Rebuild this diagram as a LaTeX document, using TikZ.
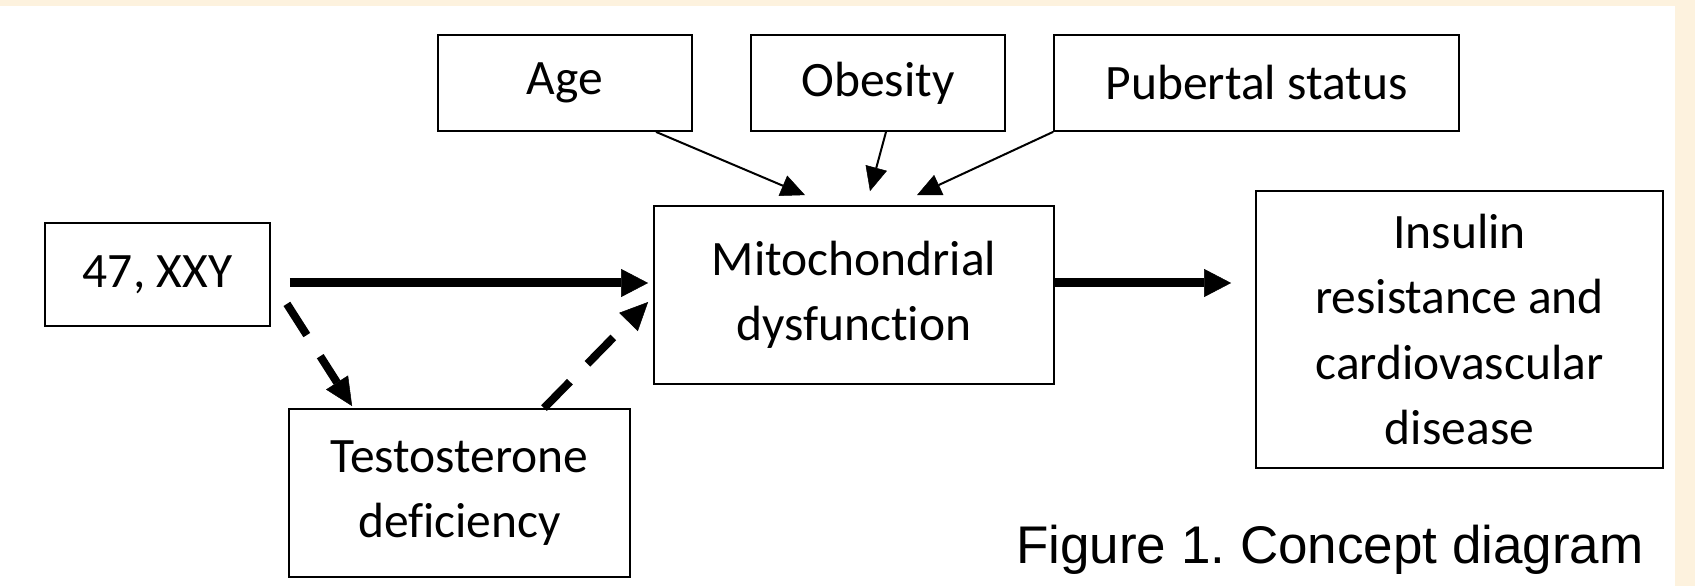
\documentclass[tikz,border=0pt]{standalone}
\usepackage{fontspec}
\setmainfont{Carlito}[Ligatures=NoCommon]
\newfontfamily\figfont{Liberation Sans}
\usetikzlibrary{arrows.meta}
\usetikzlibrary{calc}
\definecolor{cream}{RGB}{253,242,222}
\tikzset{box/.style={draw, line width=1.8pt, align=center, inner sep=0pt,
  font=\fontsize{49.5}{65}\selectfont},
 thin arrow/.style={line width=2pt, -{Triangle[length=24pt,width=22pt,line width=0.5pt]}},
 thick arrow/.style={line width=9pt, -{Triangle[length=27pt,width=28pt,line width=0.5pt]}},
 dash arrow/.style={line width=8pt, dash pattern=on 37pt off 25pt,
  -{Triangle[length=28pt,width=26pt,line width=0.5pt]}},
 }

\begin{document}
\begin{tikzpicture}[x=1pt,y=1pt]
        \useasboundingbox (0,0) rectangle (1695,586);
        \fill[cream] (0,0) rectangle (1695,586);
        \fill[white] (0,0) rectangle (1675,580);
        \node[box, minimum width=254, minimum height=96] (age) at (565,503) {Age};
        \node[box, minimum width=254, minimum height=96] (obesity) at (878,503) {Obesity};
        \node[box, minimum width=405, minimum height=96] (pubertal) at (1256.5,503) {Pubertal status};
        \node[box, minimum width=225, minimum height=103] (xxy) at (157.5,311.5) {47, XXY};
        \node[box, minimum width=400, minimum height=178] (mito) at (854,291) {Mitochondrial\\dysfunction};
        \node[box, minimum width=407, minimum height=277] (insulin) at (1459.5,256.5) {Insulin\\resistance and\\cardiovascular\\disease};
        \node[box, minimum width=341, minimum height=168] (testo) at (459.5,93) {Testosterone\\deficiency};
        \node[anchor=base west, inner sep=0pt, font=\figfont\fontsize{53}{60}\selectfont] (caption) at (1016,22.5) {\frenchspacing Figure 1. Concept diagram};
        \draw[thin arrow] ($(age.south)+(91,0)$) -- ($(mito.north)+(-49,10)$);
        \draw[thin arrow] ($(obesity.south)+(8,0)$) -- ($(mito.north)+(16,14)$);
        \draw[thin arrow] (pubertal.south west) -- ($(mito.north)+(63,10)$);
        \draw[thick arrow] ($(xxy.east)+(19,-8.5)$) -- ($(mito.west)+(-5,12)$);
        \draw[thick arrow] ($(mito.east)+(0,12)$) -- ($(insulin.west)+(-24,46.5)$);
        \draw[dash arrow] ($(xxy.south east)+(16,23)$) -- ($(testo.north west)+(64,2)$);
        \draw[dash arrow] ($(testo.north)+(84.5,0)$) -- ($(mito.west)+(-5,-7)$);
\end{tikzpicture}
\end{document}
